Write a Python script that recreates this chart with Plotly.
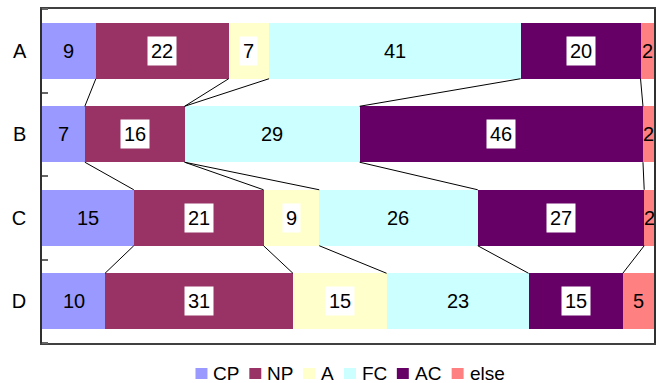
import plotly.graph_objects as go

# ---------------- data ----------------
categories = ["A", "B", "C", "D"]
series_names = ["CP", "NP", "A", "FC", "AC", "else"]
CP = [8.8, 7.0, 15.0, 10.3]
NP = [21.7, 16.3, 21.2, 30.7]
A_ = [6.6, 0.0, 9.1, 15.3]
FC = [41.1, 28.6, 25.9, 23.2]
AC = [19.6, 46.3, 27.2, 15.4]
ELSE = [2.2, 1.8, 1.6, 5.1]
series_values = [CP, NP, A_, FC, AC, ELSE]

# ---------------- style ----------------
colors = ["#9999FF", "#993366", "#FFFFCC", "#CCFFFF", "#660066", "#FF8080"]
boxed = {"NP", "A", "AC"}
FONT = "Liberation Sans, Arial, sans-serif"
FS = 20
BAR_W = 0.67

W, H = 660, 383
L, R, T, B = 42, 4, 9, 40
PW, PH = W - L - R, H - T - B


def px_x(px):
    return (px - L) / PW


def px_y(py):
    return (H - B - py) / PH


ys = list(range(len(categories)))
fig = go.Figure()

for name, vals, col in zip(series_names, series_values, colors):
    fig.add_trace(go.Bar(
        y=ys, x=vals, orientation="h", name=name, width=BAR_W,
        marker=dict(color=col, line=dict(width=0)),
        showlegend=False, hoverinfo="skip",
    ))

# cumulative ends per row
cum = []
for i in range(len(categories)):
    s = 0
    row = []
    for vals in series_values:
        s += vals[i]
        row.append(s)
    cum.append(row)

# series lines
lx, ly = [], []
for k in range(len(series_names) - 1):
    for i in range(len(categories) - 1):
        lx += [cum[i][k], cum[i + 1][k], None]
        ly += [i + BAR_W / 2, i + 1 - BAR_W / 2, None]
fig.add_trace(go.Scatter(x=lx, y=ly, mode="lines",
                         line=dict(color="black", width=1),
                         showlegend=False, hoverinfo="skip"))

annotations = []
# value labels
for i in range(len(categories)):
    start = 0
    for name, vals in zip(series_names, series_values):
        v = vals[i]
        if v > 0:
            ann = dict(x=start + v / 2, y=i, xref="x", yref="y",
                       text=str(round(v)), showarrow=False,
                       font=dict(family=FONT, size=FS, color="black"),
                       xanchor="center", yanchor="middle")
            if name in boxed:
                ann.update(bgcolor="white", borderpad=3)
            annotations.append(ann)
        start += v

# manual legend
leg_sq_left = [196, 250, 304, 345, 398, 453]
leg_y = 373.5
shapes = []
for name, col, sx in zip(series_names, colors, leg_sq_left):
    shapes.append(dict(type="rect", xref="paper", yref="paper",
                       x0=px_x(sx), x1=px_x(sx + 12),
                       y0=px_y(leg_y + 5.5), y1=px_y(leg_y - 5.5),
                       fillcolor=col, line=dict(width=0)))
    annotations.append(dict(x=px_x(sx + 16), y=px_y(leg_y), xref="paper", yref="paper",
                            text=name, showarrow=False, xanchor="left", yanchor="middle",
                            font=dict(family=FONT, size=FS - 1, color="black")))

fig.update_layout(
    width=W, height=H,
    margin=dict(l=L, r=R, t=T, b=B),
    paper_bgcolor="white", plot_bgcolor="white",
    barmode="stack", bargap=0.33,
    annotations=annotations, shapes=shapes,
    showlegend=False,
    font=dict(family=FONT, size=FS, color="black"),
    xaxis=dict(range=[0, 100], showgrid=False, zeroline=False,
               showticklabels=False, ticks="",
               showline=True, mirror=True, linecolor="#404040", linewidth=1.5),
    yaxis=dict(range=[len(categories) - 0.5, -0.5], tickmode="array",
               tickvals=ys, ticktext=categories, ticks="",
               ticklabelstandoff=10,
               tickfont=dict(family=FONT, size=FS, color="black"),
               showgrid=False, zeroline=False,
               showline=True, mirror=True, linecolor="#303030", linewidth=1.5,
               minor=dict(tickmode="linear", tick0=0.5, dtick=1, ticks="inside",
                          ticklen=6, tickwidth=2, tickcolor="#666666", showgrid=False)),
)

fig.write_html("out.html")
